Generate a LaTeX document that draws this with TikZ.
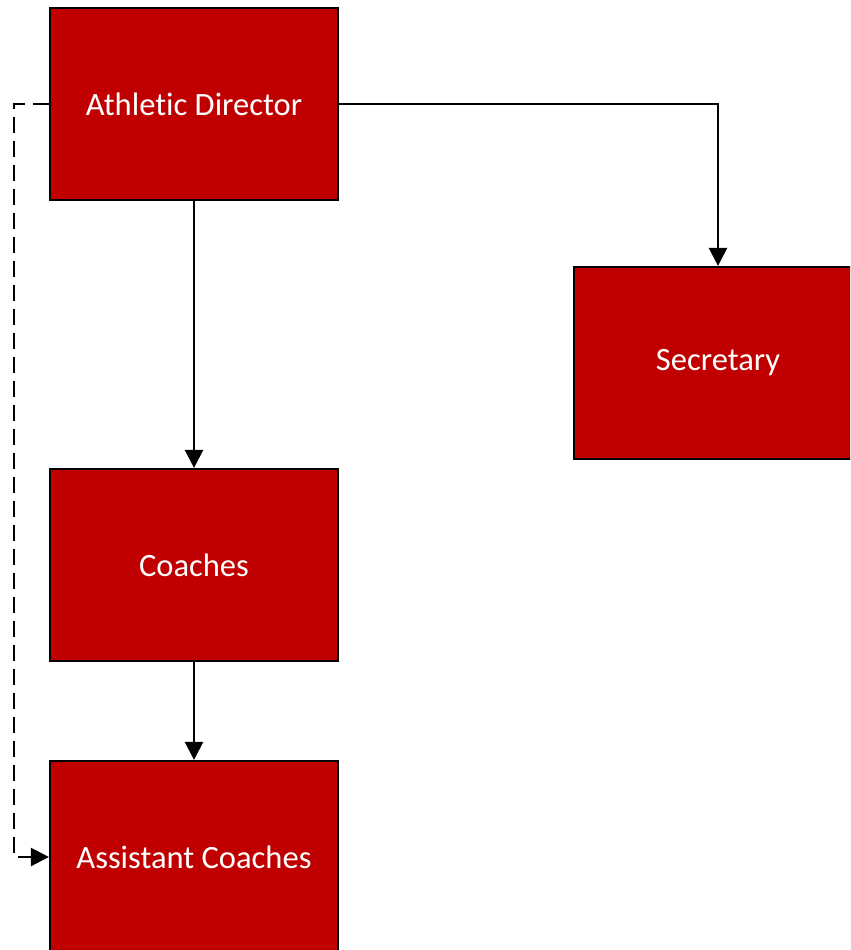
\documentclass[tikz,border=0pt]{standalone}
\usepackage{fontspec}
\setmainfont{Carlito}[Ligatures=NoCommon]
\usetikzlibrary{arrows.meta}
\definecolor{boxred}{HTML}{C00000}
\begin{document}
\begin{tikzpicture}[x=0.75pt,y=-0.75pt,
  role/.style={draw=black,line width=1.6pt,fill=boxred,text=white,
    minimum width=216pt,minimum height=144pt,inner sep=0pt,
    font=\fontsize{24.4}{28}\selectfont},
  link/.style={line width=1.7pt,-{Triangle[length=13.5pt,width=13.5pt]}},
  dotted link/.style={link,dash pattern=on 12pt off 6pt}]
\useasboundingbox (0,0) rectangle (850,950);
\clip (0,0) rectangle (850,950);
\node[role] (ad) at (194,104) {Athletic Director};
\node[role] (sec) at (718,363) {Secretary};
\node[role] (co) at (194,565) {Coaches};
\node[role] (ac) at (194,857) {Assistant Coaches};
\draw[link] (ad.east) -| (sec.north);
\draw[link] (ad.south) -- (co.north);
\draw[link] (co.south) -- (ac.north);
\coordinate (bendtop) at (14,104);
\coordinate (bendbot) at (14,857);
\draw[dotted link] (ad.west) -- (bendtop) -- (bendbot) -- (ac.west);
\end{tikzpicture}
\end{document}
